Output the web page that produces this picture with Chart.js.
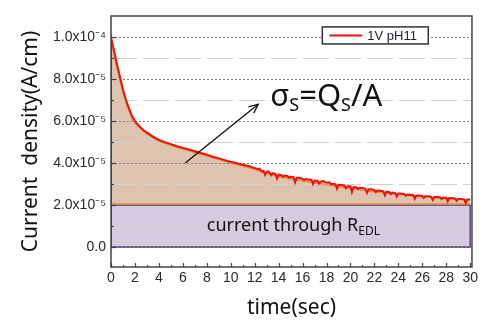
<!DOCTYPE html>
<html><head><meta charset="utf-8">
<script src="https://cdn.jsdelivr.net/npm/chart.js@4.4.1/dist/chart.umd.min.js"></script>
<style>html,body{margin:0;padding:0;background:#fff}#wrap{width:481px;height:326px;position:relative}</style>
</head><body><div id="wrap"><canvas id="c"></canvas></div>
<script>
// measured current (units of 1e-5 A/cm)
const timeSec = [0,0,0.25,0.5,0.75,1,1.25,1.5,1.75,2,2.25,2.5,2.75,3,3.25,3.5,3.75,4,4.5,5,5.5,6,6.5,7,7.5,8,8.5,9,9.5,10,10.5,11,11.5,
 12,12.125,12.25,12.375,12.5,12.625,12.75,12.875,13,13.125,13.25,13.375,13.5,13.625,13.75,13.875,14,14.25,14.375,14.5,14.75,14.875,
 15,15.25,15.375,15.5,15.75,16,16.125,16.25,16.5,16.75,16.875,17,17.25,17.375,17.5,17.75,18,18.25,18.375,18.5,18.75,18.875,
 19,19.25,19.5,19.625,19.75,20,20.125,20.25,20.5,20.625,20.75,21,21.25,21.375,21.5,21.75,22,22.125,22.25,22.5,22.75,22.875,
 23,23.25,23.375,23.5,23.75,23.875,24,24.25,24.5,24.625,24.75,25,25.25,25.375,25.5,25.75,26,26.125,26.25,26.5,26.75,26.875,
 27,27.25,27.5,27.625,27.75,28,28.125,28.25,28.5,28.75,28.875,29,29.25,29.5,29.625,29.75,30];
const currentE5 = [0,10.0,9.35,8.7,8.1,7.5,7.0,6.6,6.25,6.0,5.82,5.68,5.55,5.45,5.35,5.26,5.18,5.1,4.99,4.9,4.8,4.72,4.64,4.56,4.48,4.4,4.3,4.22,4.14,4.06,3.99,3.92,3.86,
 3.76,3.74,3.70,3.74,3.66,3.60,3.62,3.44,3.58,3.60,3.54,3.42,3.52,3.50,3.47,3.26,3.45,3.42,3.34,3.40,3.38,3.30,
 3.35,3.33,3.08,3.30,3.30,3.25,3.18,3.24,3.22,3.20,3.00,3.17,3.16,3.02,3.11,3.14,3.06,3.08,2.98,3.00,2.99,2.78,
 2.96,2.95,2.92,2.80,2.90,2.90,2.62,2.86,2.85,2.76,2.82,2.81,2.77,2.58,2.75,2.75,2.71,2.62,2.69,2.68,2.65,2.46,
 2.63,2.62,2.52,2.59,2.57,2.40,2.55,2.55,2.52,2.44,2.50,2.49,2.47,2.30,2.45,2.45,2.43,2.34,2.42,2.42,2.39,2.24,
 2.38,2.38,2.36,2.28,2.35,2.35,2.17,2.33,2.33,2.30,2.20,2.29,2.29,2.27,2.10,2.26,2.28];
// smooth fit
const fitTimeSec = [0,0.25,0.5,0.75,1,1.25,1.5,1.75,2,2.5,3,3.5,4,5,6,7,8,9,10,11,12,13,14,15,16,17,18,19,20,21,22,23,24,25,26,27,28,29,30];
const fitE5 = [10.0,9.2,8.55,7.95,7.4,6.9,6.5,6.15,5.9,5.62,5.4,5.2,5.05,4.85,4.67,4.5,4.33,4.17,4.0,3.86,3.7,3.5,3.36,3.25,3.16,3.06,2.96,2.87,2.79,2.71,2.63,2.56,2.49,2.44,2.39,2.35,2.31,2.27,2.24];
const edlLevel = [2.0];           // current through R_EDL (1e-5 A/cm)
const surfaceBase = [2.05];       // base of the surface-charge area
const timeRange = [0, 30];
const yTickLabels = {10:'1.0x10\u207B\u2074',8:'8.0x10\u207B\u2075',6:'6.0x10\u207B\u2075',4:'4.0x10\u207B\u2075',2:'2.0x10\u207B\u2075',0:'0.0'};
const seriesLabel = '1V pH11';

const pts = (xs, ys) => ys.slice(0, Math.min(xs.length, ys.length)).map((y, i) => ({x: xs[i], y}));

const decor = {
  id: 'decor',
  beforeDatasetsDraw(chart) {
    const {ctx, chartArea: a, scales: {x, y}} = chart;
    ctx.save();
    ctx.beginPath(); ctx.rect(a.left, a.top, a.right - a.left, a.bottom - a.top); ctx.clip();
    y.ticks.forEach(t => {
      const v = t.value;
      if (v >= 10.9) return;
      const py = Math.round(y.getPixelForValue(v)) + 0.5;
      const major = Math.round(v) % 2 === 0;
      ctx.strokeStyle = major ? '#808080' : '#d0d0d0';
      ctx.lineWidth = 1;
      ctx.setLineDash(major ? [2, 2] : [26, 6]);
      ctx.beginPath(); ctx.moveTo(a.left, py); ctx.lineTo(a.right, py); ctx.stroke();
    });
    ctx.restore();
  },
  afterDatasetsDraw(chart) {
    const {ctx, chartArea: a, scales: {x, y}} = chart;
    ctx.save();
    // frame
    ctx.strokeStyle = '#444'; ctx.lineWidth = 1.5; ctx.setLineDash([]);
    ctx.strokeRect(a.left, a.top, a.right - a.left, a.bottom - a.top);
    // inward ticks
    ctx.lineWidth = 1.2;
    for (let t = 0; t <= 30; t++) {
      const px = Math.round(x.getPixelForValue(t)) + 0.5;
      const len = t % 2 === 0 ? 4 : 2;
      ctx.beginPath(); ctx.moveTo(px, a.bottom); ctx.lineTo(px, a.bottom - len); ctx.stroke();
    }
    y.ticks.forEach(t => {
      const v = t.value; if (v >= 10.9) return;
      const py = Math.round(y.getPixelForValue(v)) + 0.5;
      const len = Math.round(v) % 2 === 0 ? 5 : 3;
      ctx.beginPath(); ctx.moveTo(a.left, py); ctx.lineTo(a.left + len, py); ctx.stroke();
    });
    // legend
    const lx0 = x.getPixelForValue(17.65), lx1 = x.getPixelForValue(26.5);
    const ly0 = y.getPixelForValue(10.48), ly1 = y.getPixelForValue(9.67);
    ctx.fillStyle = '#fff'; ctx.fillRect(lx0, ly0, lx1 - lx0, ly1 - ly0);
    ctx.strokeStyle = '#333'; ctx.lineWidth = 1.5; ctx.strokeRect(lx0, ly0, lx1 - lx0, ly1 - ly0);
    const lym = (ly0 + ly1) / 2;
    ctx.strokeStyle = '#f01010'; ctx.lineWidth = 2;
    ctx.beginPath(); ctx.moveTo(lx0 + 7, lym); ctx.lineTo(lx0 + 40, lym); ctx.stroke();
    ctx.fillStyle = '#1c1c3c'; ctx.font = '13px "Liberation Sans", Arial, sans-serif';
    ctx.textBaseline = 'middle'; ctx.textAlign = 'left';
    ctx.fillText(chart.data.datasets[0].label, lx0 + 45, lym + 0.5);
    // arrow
    const ax0 = x.getPixelForValue(6.2), ay0 = y.getPixelForValue(4.0);
    const ax1 = x.getPixelForValue(12.3), ay1 = y.getPixelForValue(6.8);
    ctx.strokeStyle = '#111'; ctx.lineWidth = 1.3;
    ctx.beginPath(); ctx.moveTo(ax0, ay0); ctx.lineTo(ax1, ay1); ctx.stroke();
    const ang = Math.atan2(ay1 - ay0, ax1 - ax0);
    ctx.beginPath();
    ctx.moveTo(ax1 - 10 * Math.cos(ang - 0.42), ay1 - 10 * Math.sin(ang - 0.42));
    ctx.lineTo(ax1, ay1);
    ctx.lineTo(ax1 - 10 * Math.cos(ang + 0.42), ay1 - 10 * Math.sin(ang + 0.42));
    ctx.stroke();
    // sigma label
    ctx.fillStyle = '#111'; ctx.textBaseline = 'alphabetic';
    let tx = x.getPixelForValue(13.3); const tb = y.getPixelForValue(6.7);
    const big = '31px "Noto Sans", "Open Sans", sans-serif', small = '18px "Noto Sans", "Open Sans", sans-serif';
    const seg = [['\u03C3', big, 0], ['S', small, 5], ['=Q', big, 0], ['S', small, 5], ['/A', big, 0]];
    seg.forEach(([s, f, dy]) => { ctx.font = f; ctx.fillText(s, tx, tb + dy); tx += ctx.measureText(s).width; });
    // EDL label
    let ex = x.getPixelForValue(8.0); const eb = y.getPixelForValue(0.75);
    ctx.font = '18px "Noto Sans", "Open Sans", sans-serif';
    ctx.fillText('current through R', ex, eb); ex += ctx.measureText('current through R').width;
    ctx.font = '12px "Noto Sans", "Open Sans", sans-serif';
    ctx.fillText('EDL', ex, eb + 4);
    ctx.restore();
  }
};

new Chart(document.getElementById('c'), {
  type: 'line',
  data: {
    datasets: [
      { label: seriesLabel, data: pts(timeSec, currentE5), borderColor: '#f01010', borderWidth: 2,
        backgroundColor: '#dec4b0', fill: {value: surfaceBase[0]}, pointRadius: 0, tension: 0, order: 1 },
      { label: 'fit', data: pts(fitTimeSec, fitE5), borderColor: '#f08a2a', borderWidth: 1.5,
        fill: false, pointRadius: 0, tension: 0.3, order: 2 },
      { label: 'base', data: pts(timeRange, [surfaceBase[0], surfaceBase[0]]), borderColor: '#f08a2a', borderWidth: 1.5,
        fill: false, pointRadius: 0, order: 3 },
      { label: 'EDL', data: pts(timeRange, [edlLevel[0], edlLevel[0]]), borderColor: 'rgba(0,0,0,0)', borderWidth: 0,
        backgroundColor: '#d5cbe1', fill: {value: 0}, pointRadius: 0, order: 5 },
      { label: 'EDL box', data: pts([timeRange[0], timeRange[0], timeRange[1], timeRange[1], timeRange[0]], [0, edlLevel[0], edlLevel[0], 0, 0]),
        borderColor: '#5a4a7a', borderWidth: 1.5, fill: false, pointRadius: 0, order: 4 }
    ]
  },
  options: {
    responsive: true, maintainAspectRatio: false, animation: false,
    layout: { padding: { top: 16, right: 9, left: 0, bottom: 0 } },
    plugins: { legend: { display: false }, tooltip: { enabled: false }, filler: { drawTime: 'beforeDatasetsDraw' } },
    scales: {
      x: {
        type: 'linear', min: 0, max: 30.15,
        afterFit(s) { s.height = 59; },
        grid: { display: false, drawTicks: false }, border: { display: false },
        ticks: { stepSize: 2, includeBounds: false, padding: 3, maxRotation: 0, autoSkip: false,
          color: '#2a2a2a', font: { family: '"Liberation Sans", Arial, sans-serif', size: 14 } },
        title: { display: true, text: 'time(sec)', color: '#111', padding: { top: 0, bottom: 5 },
          font: { family: '"Noto Sans", "Open Sans", sans-serif', size: 21 } }
      },
      y: {
        type: 'linear', min: -0.95, max: 11,
        afterFit(s) { s.width = 111; },
        grid: { display: false, drawTicks: false }, border: { display: false },
        ticks: { stepSize: 1, includeBounds: false, padding: 5, autoSkip: false,
          callback: v => (yTickLabels[Math.round(v)] !== undefined && Math.abs(v - Math.round(v)) < 1e-6) ? yTickLabels[Math.round(v)] : '',
          color: '#2a2a2a', font: { family: '"Liberation Sans", Arial, sans-serif', size: 14 } },
        title: { display: true, text: 'Current  density(A/cm)', color: '#111', padding: { top: 18, bottom: 0 },
          font: { family: '"Noto Sans", "Open Sans", sans-serif', size: 21 } }
      }
    }
  },
  plugins: [decor]
});
</script></body></html>
